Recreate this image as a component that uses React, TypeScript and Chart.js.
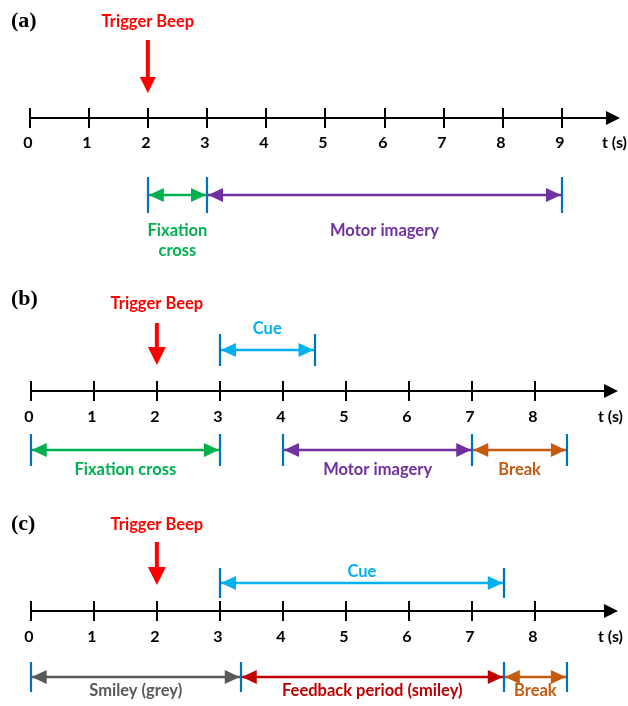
import React, { useEffect, useRef } from 'react';
import { Chart, registerables } from 'chart.js';

Chart.register(...registerables);

// ---------------- data ----------------
const panelLabels = ['(a)', '(b)', '(c)'];
const tickValuesA = [0, 1, 2, 3, 4, 5, 6, 7, 8, 9];
const tickValuesBC = [0, 1, 2, 3, 4, 5, 6, 7, 8];
const axisUnit = 't (s)';
const beepLabel = 'Trigger Beep';
const beepTime = 2;

const aLowerNames = ['Fixation\ncross', 'Motor imagery'];
const aLowerStart = [2, 3];
const aLowerEnd = [3, 9];

const bUpperNames = ['Cue'];
const bUpperStart = [3];
const bUpperEnd = [4.5];
const bLowerNames = ['Fixation cross', 'Motor imagery', 'Break'];
const bLowerStart = [0, 4, 7];
const bLowerEnd = [3, 7, 8.5];

const cUpperNames = ['Cue'];
const cUpperStart = [3];
const cUpperEnd = [7.5];
const cLowerNames = ['Smiley (grey)', 'Feedback period (smiley)', 'Break'];
const cLowerStart = [0, 3.33, 7.5];
const cLowerEnd = [3.33, 7.5, 8.5];

// ---------------- styles ----------------
const GREEN = '#00b050';
const PURPLE = '#7030a0';
const CYAN = '#00b0f0';
const ORANGE = '#c55a11';
const GREY = '#595959';
const DARKRED = '#c00000';
const RED = '#ff0000';
const MARKER = '#0070c0';

const aLowerColors = [GREEN, PURPLE];
const bUpperColors = [CYAN];
const bLowerColors = [GREEN, PURPLE, ORANGE];
const cUpperColors = [CYAN];
const cLowerColors = [GREY, DARKRED, ORANGE];

const W = 628;
const H = 706;
const SANS = 'Lato, "Open Sans", "DejaVu Sans", sans-serif';
const SERIF = '"Liberation Serif", "Times New Roman", serif';
const LABEL_FONT = `bold 16.5px ${SANS}`;
const TICK_FONT = `bold 16px ${SANS}`;

type Group = { names: string[]; start: number[]; end: number[]; colors: string[]; rowY: number; half: number; textY: number };
type Panel = {
  id: string; label: string; min: number; max: number; ticks: number[]; axisY: number; axisEnd: number;
  tickLabelY: number; unitX: number; labelY: number; beepTextY: number; beepTop: number; beepTip: number; beepHead: number;
  groups: Group[];
};

const panels: Panel[] = [
  {
    id: 'xa', label: panelLabels[0], min: -29.5 / 59.17, max: (W - 29.5) / 59.17, ticks: tickValuesA,
    axisY: 118, axisEnd: 9.98, tickLabelY: 143, unitX: 602, labelY: 21,
    beepTextY: 22, beepTop: 40, beepTip: 93, beepHead: 16,
    groups: [
      { names: aLowerNames, start: aLowerStart, end: aLowerEnd, colors: aLowerColors, rowY: 195, half: 18, textY: 231 },
    ],
  },
  {
    id: 'xb', label: panelLabels[1], min: -30.7 / 63.08, max: (W - 30.7) / 63.08, ticks: tickValuesBC,
    axisY: 391, axisEnd: 9.31, tickLabelY: 417, unitX: 598, labelY: 299,
    beepTextY: 304, beepTop: 323, beepTip: 365, beepHead: 18,
    groups: [
      { names: bUpperNames, start: bUpperStart, end: bUpperEnd, colors: bUpperColors, rowY: 350, half: 16, textY: 329 },
      { names: bLowerNames, start: bLowerStart, end: bLowerEnd, colors: bLowerColors, rowY: 450, half: 16, textY: 470 },
    ],
  },
  {
    id: 'xc', label: panelLabels[2], min: -30.7 / 63.08, max: (W - 30.7) / 63.08, ticks: tickValuesBC,
    axisY: 611, axisEnd: 9.31, tickLabelY: 637, unitX: 598, labelY: 524,
    beepTextY: 525, beepTop: 542, beepTip: 585, beepHead: 18,
    groups: [
      { names: cUpperNames, start: cUpperStart, end: cUpperEnd, colors: cUpperColors, rowY: 583, half: 15, textY: 572 },
      { names: cLowerNames, start: cLowerStart, end: cLowerEnd, colors: cLowerColors, rowY: 677, half: 15, textY: 691 },
    ],
  },
];

function buildDatasets() {
  const ds: any[] = [];
  const line = (axisId: string, pts: { x: number; y: number }[], color: string, width: number) => ({
    xAxisID: axisId, yAxisID: 'y', data: pts, showLine: true, borderColor: color, backgroundColor: color,
    borderWidth: width, pointRadius: 0, borderCapStyle: 'butt', fill: false,
  });
  panels.forEach((p) => {
    // timeline axis line
    ds.push(line(p.id, [{ x: 0, y: p.axisY }, { x: p.axisEnd - 0.1, y: p.axisY }], '#000000', 2));
    // trigger beep shaft
    ds.push(line(p.id, [{ x: beepTime, y: p.beepTop }, { x: beepTime, y: p.beepTip - p.beepHead + 2 }], RED, 4));
    // interval shafts
    p.groups.forEach((g) => {
      g.start.forEach((s, i) => {
        ds.push(line(p.id, [{ x: s, y: g.rowY }, { x: g.end[i], y: g.rowY }], g.colors[i], 2.5));
      });
    });
  });
  return ds;
}

function head(ctx: CanvasRenderingContext2D, x: number, y: number, dir: 'l' | 'r' | 'd', len: number, half: number, color: string) {
  ctx.save();
  ctx.fillStyle = color;
  ctx.beginPath();
  if (dir === 'r') {
    ctx.moveTo(x, y); ctx.lineTo(x - len, y - half); ctx.lineTo(x - len, y + half);
  } else if (dir === 'l') {
    ctx.moveTo(x, y); ctx.lineTo(x + len, y - half); ctx.lineTo(x + len, y + half);
  } else {
    ctx.moveTo(x, y); ctx.lineTo(x - half, y - len); ctx.lineTo(x + half, y - len);
  }
  ctx.closePath();
  ctx.fill();
  ctx.restore();
}

const decor = {
  id: 'timelineDecor',
  afterDatasetsDraw(chart: any) {
    const ctx: CanvasRenderingContext2D = chart.ctx;
    const ys = chart.scales.y;
    panels.forEach((p) => {
      const xs = chart.scales[p.id];
      const ay = ys.getPixelForValue(p.axisY);
      ctx.save();
      // ticks + labels
      ctx.strokeStyle = '#000';
      ctx.lineWidth = 2;
      ctx.font = TICK_FONT;
      ctx.fillStyle = '#000';
      ctx.textAlign = 'center';
      ctx.textBaseline = 'middle';
      p.ticks.forEach((v) => {
        const px = Math.round(xs.getPixelForValue(v));
        ctx.beginPath();
        ctx.moveTo(px, ay - 10);
        ctx.lineTo(px, ay + 10);
        ctx.stroke();
        ctx.fillText(String(v), px - 2, ys.getPixelForValue(p.tickLabelY));
      });
      // axis arrow head
      head(ctx, xs.getPixelForValue(p.axisEnd), ay, 'r', 14, 7, '#000');
      // unit
      ctx.textAlign = 'left';
      ctx.fillText(axisUnit, p.unitX, ys.getPixelForValue(p.tickLabelY));
      // panel label
      ctx.font = `bold 22px ${SERIF}`;
      ctx.fillText(p.label, 11, ys.getPixelForValue(p.labelY));
      // trigger beep
      const bx = xs.getPixelForValue(beepTime);
      ctx.font = LABEL_FONT;
      ctx.textAlign = 'center';
      ctx.fillStyle = RED;
      ctx.fillText(beepLabel, bx, ys.getPixelForValue(p.beepTextY));
      head(ctx, bx, ys.getPixelForValue(p.beepTip), 'd', p.beepHead, p.beepHead / 2, RED);
      // intervals
      p.groups.forEach((g) => {
        const ry = ys.getPixelForValue(g.rowY);
        const bounds: number[] = [];
        g.start.forEach((s, i) => {
          const x0 = xs.getPixelForValue(s);
          const x1 = xs.getPixelForValue(g.end[i]);
          head(ctx, x0 + 1, ry, 'l', 15, 7, g.colors[i]);
          head(ctx, x1 - 1, ry, 'r', 15, 7, g.colors[i]);
          if (!bounds.includes(s)) bounds.push(s);
          if (!bounds.includes(g.end[i])) bounds.push(g.end[i]);
          // label
          ctx.fillStyle = g.colors[i];
          ctx.font = LABEL_FONT;
          ctx.textAlign = 'center';
          const lines = g.names[i].split('\n');
          const cx = (x0 + x1) / 2;
          lines.forEach((t, k) => ctx.fillText(t, cx, ys.getPixelForValue(g.textY + k * 20)));
        });
        // boundary markers
        ctx.strokeStyle = MARKER;
        ctx.lineWidth = 2.2;
        bounds.forEach((b) => {
          const px = Math.round(xs.getPixelForValue(b));
          ctx.beginPath();
          ctx.moveTo(px, ry - g.half);
          ctx.lineTo(px, ry + g.half);
          ctx.stroke();
        });
      });
      ctx.restore();
    });
  },
};

export default function App() {
  const ref = useRef<HTMLCanvasElement | null>(null);
  useEffect(() => {
    if (!ref.current) return;
    const scales: any = {
      y: { type: 'linear', min: 0, max: H, reverse: true, display: false },
    };
    panels.forEach((p) => {
      scales[p.id] = { type: 'linear', axis: 'x', position: 'bottom', min: p.min, max: p.max, display: false };
    });
    const chart = new Chart(ref.current, {
      type: 'scatter',
      data: { datasets: buildDatasets() },
      options: {
        responsive: false,
        maintainAspectRatio: false,
        animation: false,
        devicePixelRatio: 1,
        events: [],
        layout: { padding: 0 },
        plugins: { legend: { display: false }, tooltip: { enabled: false } },
        scales,
      } as any,
      plugins: [decor],
    });
    return () => chart.destroy();
  }, []);
  return (
    <div style={{ position: 'fixed', left: 0, top: 0, width: W, height: H, background: '#fff' }}>
      <canvas ref={ref} width={W} height={H} style={{ display: 'block', width: W, height: H }} />
    </div>
  );
}
